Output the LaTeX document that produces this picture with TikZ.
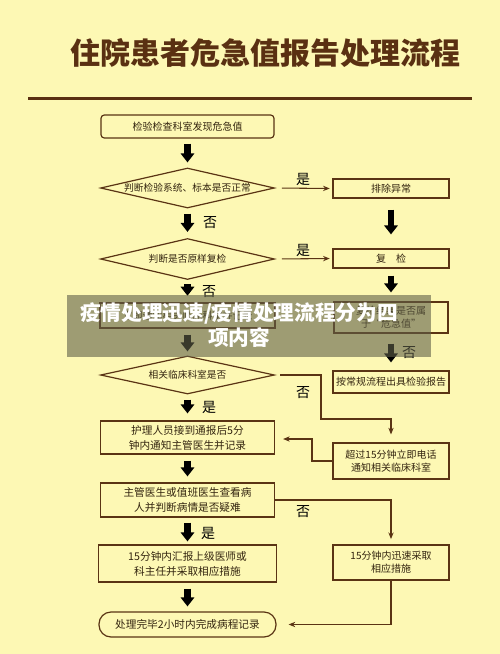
\documentclass[tikz,border=0pt]{standalone}
\usepackage{fontspec}
\setmainfont{Noto Sans CJK SC}
\usetikzlibrary{arrows.meta,shapes.geometric}
\definecolor{bgc}{HTML}{FDF8B4}
\definecolor{brn}{HTML}{5A3414}
\definecolor{ttl}{HTML}{5A3012}
\definecolor{txt}{HTML}{33240F}
\definecolor{ovl}{HTML}{5F5F49}
\begin{document}
\begin{tikzpicture}[x=0.75pt,y=-0.75pt,
  wh/.style 2 args={minimum width=#1*0.75pt, minimum height=#2*0.75pt},
  box/.style={draw=brn, line width=0.9pt, inner sep=0pt, align=center, text=txt, font=\fontsize{7.5}{9.5}\selectfont},
  bigbox/.style={box, font=\fontsize{8}{11.25}\selectfont},
  dia/.style={diamond, draw=brn, line width=0.9pt, inner sep=0pt},
  dtext/.style={text=txt, font=\fontsize{7.3}{10}\selectfont},
  fat/.style={line width=5pt, black, -{Triangle[width=10pt,length=6.75pt]}},
  link/.style={draw=brn, line width=0.8pt, -{Stealth[length=5pt,width=4pt]}},
  plain/.style={draw=brn, line width=0.8pt},
  yn/.style={font=\fontsize{10.5}{12}\selectfont, text=black},
]
\fill[bgc] (0,0) rectangle (500,654);
\useasboundingbox (0,0) rectangle (500,654);

% title
\node[font=\fontsize{22.5}{26}\selectfont\bfseries, text=ttl] (title) at (265.5,53) {住院患者危急值报告处理流程};
\draw[ttl, line width=2.25pt] (28,98) -- (472,98);

% left column
\node[box, wh={173}{23}, rounded corners=2.5pt] (n1) at (187.5,126.5) {检验检查科室发现危急值};
\node[dia, wh={174}{40}] (d1) at (187.5,188) {};
\node[dtext] (t1) at (d1) {判断检验系统、标本是否正常};
\node[dia, wh={174}{41}] (d2) at (187.5,259) {};
\node[dtext] (t2) at (d2) {判断是否原样复检};
\node[box, wh={175}{25}] (h1) at (187.5,315.5) {立即通知相关临床科室并记录};
\node[dia, wh={174}{38}] (d3) at (187.5,375) {};
\node[dtext] (t3) at (d3) {相关临床科室是否};
\node[bigbox, wh={174}{33}] (hl) at (187.5,437.5) {护理人员接到通报后5分\\钟内通知主管医生并记录};
\node[bigbox, wh={174}{34}] (zg) at (187.5,500) {主管医生或值班医生查看病\\人并判断病情是否疑难};
\node[bigbox, wh={178}{37}] (hb) at (187.5,563.5) {15分钟内汇报上级医师或\\科主任并采取相应措施};
\node[bigbox, wh={177}{25}, rounded corners=9pt] (wb) at (187.5,624.5) {处理完毕2小时内完成病程记录};

% right column
\node[box, wh={116}{19}] (pc) at (391,188.5) {排除异常};
\node[box, wh={116}{19}] (fj) at (391,258.5) {复\quad 检};
\node[box, wh={114}{31}] (jg) at (391,317.5) {复检结果是否属\\于“危急值”};
\node[box, wh={116}{22}] (cg) at (391,382) {按常规流程出具检验报告};
\node[box, wh={116}{36}] (cs) at (391,461) {超过15分钟立即电话\\通知相关临床科室};
\node[box, wh={116}{35}] (xs) at (391,562.5) {15分钟内迅速采取\\相应措施};

% fat arrows left
\draw[fat, shorten <=3.75pt, shorten >=3.75pt] (n1.south) -- (d1.north);
\draw[fat, shorten <=3.75pt, shorten >=4.5pt] (d1.south) -- (d2.north);
\draw[fat, shorten <=3pt, shorten >=5pt] (d2.south) -- (h1.north);
\draw[fat, shorten <=4.5pt, shorten >=3pt] (h1.south) -- (d3.north);
\draw[fat, shorten <=3.75pt, shorten >=5.25pt] (d3.south) -- (hl.north);
\draw[fat, shorten <=4.5pt, shorten >=4.5pt] (hl.south) -- (zg.north);
\draw[fat, shorten <=3.75pt, shorten >=2.25pt] (zg.south) -- (hb.north);
\draw[fat, shorten <=4.5pt, shorten >=3.75pt] (hb.south) -- (wb.north);

% fat arrows right
\draw[fat, shorten <=8.25pt, shorten >=10.5pt] (pc.south) -- (fj.north);
\draw[fat, shorten <=5.25pt, shorten >=6.75pt] (fj.south) -- (jg.north);
\draw[fat, shorten <=7.5pt, shorten >=6pt] (jg.south) -- (cg.north);

% thin connectors
\draw[link, shorten <=5pt, shorten >=2pt] (d1.east) -- (pc.west);
\draw[link, shorten <=5pt, shorten >=2pt] (d2.east) -- (fj.west);
\coordinate (c1) at (321,419);
\draw[link, shorten <=4pt, shorten >=6pt] (d3.east) -| (c1) -| (cs.north);
\coordinate (c2) at (312,439);
\draw[link, shorten >=6pt] (cs.west) -| (c2) -- (c2 -| hl.east);
\draw[link, shorten >=4pt] (zg.east) -| (xs.north);
\draw[link, shorten >=9pt] (xs.south) |- (wb.east);

% yes/no labels
\node[yn] (y1) at (303,179) {是};
\node[yn] (y2) at (303,250) {是};
\node[yn] (n1l) at (210,223) {否};
\node[yn] (n2l) at (209,292) {否};
\node[yn] (n3l) at (409,353) {否};
\node[yn] (n4l) at (303,393) {否};
\node[yn] (y3) at (209,407) {是};
\node[yn] (n5l) at (303,512) {否};
\node[yn] (y4) at (208,533) {是};

% overlay banner
\fill[ovl, opacity=0.6] (67,295) rectangle (431,357);
\node[text=white, font=\fontsize{15.5}{18.75}\selectfont\bfseries, align=center] (wm) at (239,325.5) {疫情处理迅速/疫情处理流程分为四\\项内容};
\end{tikzpicture}
\end{document}
